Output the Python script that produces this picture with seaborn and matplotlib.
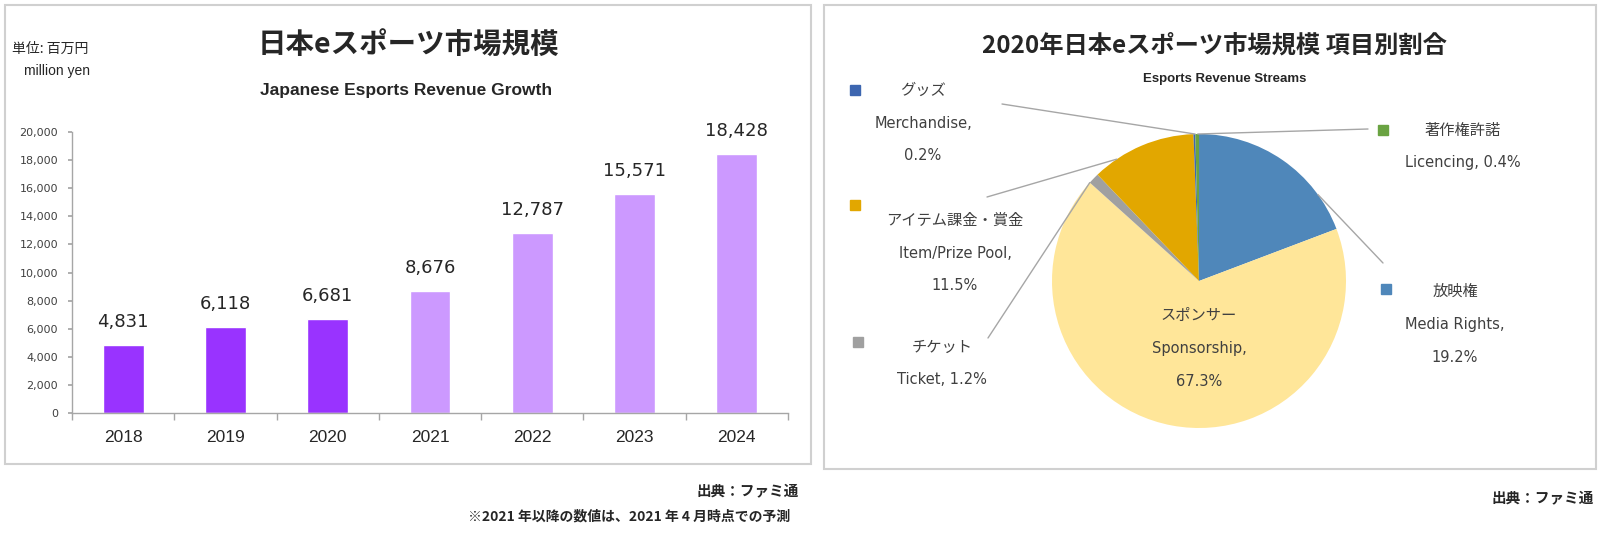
import numpy as np
import matplotlib
matplotlib.use('Agg')
import matplotlib.pyplot as plt
from matplotlib.patches import Rectangle
from matplotlib.ticker import StrMethodFormatter
import seaborn as sns

# data
years = ['2018', '2019', '2020', '2021', '2022', '2023', '2024']
revenue = [4831, 6118, 6681, 8676, 12787, 15571, 18428]
status = ['actual', 'actual', 'actual', 'forecast', 'forecast', 'forecast', 'forecast']

streams_jp = ['放映権', 'スポンサー', 'チケット', 'アイテム課金・賞金', 'グッズ', '著作権許諾']
streams_en = ['Media Rights', 'Sponsorship', 'Ticket', 'Item/Prize Pool', 'Merchandise', 'Licencing']
shares = [19.2, 67.3, 1.2, 11.5, 0.2, 0.4]

bar_colors = {'actual': '#9933FF', 'forecast': '#CC99FF'}
pie_colors = ['#4F87BA', '#FFE699', '#A0A0A0', '#E2A700', '#3D66B0', '#6AA342']

sns.set_theme(style='white')
plt.rcParams['font.family'] = ['DejaVu Sans', 'Noto Sans CJK JP']
JP = ['Noto Sans CJK JP', 'DejaVu Sans']
EN = ['Liberation Sans', 'Noto Sans CJK JP']

W, H = 1600, 535
fig = plt.figure(figsize=(16, 5.35), dpi=100)
fig.patch.set_facecolor('white')


def fxy(x, y):
    return x / W, 1 - y / H


# panel frames
for x0, y0, x1, y1 in [(5, 5, 811, 464), (824, 5, 1596, 469)]:
    fig.patches.append(Rectangle(fxy(x0, y1), (x1 - x0) / W, (y1 - y0) / H,
                                 transform=fig.transFigure, fill=False,
                                 edgecolor='#D0D0D0', linewidth=1.5))

# ---- left: bar chart
ax1 = fig.add_axes([72 / W, 1 - 413 / H, (788 - 72) / W, (413 - 132) / H])
sns.barplot(x=years, y=revenue, hue=status, palette=bar_colors, dodge=False,
            width=0.4, saturation=1, legend=False, ax=ax1)
for c in ax1.containers:
    ax1.bar_label(c, fmt='{:,.0f}', padding=10, fontsize=13, color='#262626')

ax1.set_ylim(0, 20000)
ax1.set_xlim(-0.5, 6.5)
ax1.set_yticks(range(0, 20001, 2000))
ax1.yaxis.set_major_formatter(StrMethodFormatter('{x:,.0f}'))
ax1.set_xticks(np.arange(-0.5, 7, 1), minor=True)
ax1.set_xlabel('')
ax1.set_ylabel('')
for s in ['top', 'right']:
    ax1.spines[s].set_visible(False)
for s in ['left', 'bottom']:
    ax1.spines[s].set_color('#A6A6A6')
    ax1.spines[s].set_linewidth(1)
ax1.tick_params(axis='y', left=True, length=3, color='#A6A6A6', labelsize=8,
                labelcolor='#404040', pad=7)
ax1.tick_params(axis='x', which='major', length=0, labelsize=12.5,
                labelcolor='#262626', pad=12)
ax1.tick_params(axis='x', which='minor', bottom=True, length=5, color='#A6A6A6')
for lab in ax1.get_xticklabels():
    lab.set_family(EN)

fig.text(*fxy(408, 46), '日本eスポーツ市場規模', family=JP, fontsize=20.5,
         weight='bold', ha='center', va='center')
fig.text(*fxy(406, 90), 'Japanese Esports Revenue Growth', family=EN,
         fontsize=12.5, weight='bold', ha='center', va='center')
fig.text(*fxy(50, 49), '単位: 百万円', family=JP, fontsize=10, ha='center',
         va='center', color='#262626')
fig.text(*fxy(57, 71), 'million yen', family=EN, fontsize=10, ha='center',
         va='center', color='#262626')

# ---- right: pie chart
CX, CY, R = 1199, 281, 147
ax2 = fig.add_axes([824 / W, 0, (1596 - 824) / W, 1])
ax2.pie(shares, colors=pie_colors, startangle=90, counterclock=False,
        wedgeprops=dict(linewidth=0))
ax2.set_aspect('auto')
ax2.set_xlim((824 - CX) / R, (1596 - CX) / R)
ax2.set_ylim((CY - H) / R, CY / R)
ax2.axis('off')


def pd_(x, y):
    return (x - CX) / R, (CY - y) / R


# label layout: text centre x, first line y, marker position, leader end, anchor angle
layout = {
    'Media Rights': dict(tx=1455, ty=291, m=(1386, 289), lead=(1383, 263), ang=36, wrap=True),
    'Sponsorship': dict(tx=1199, ty=315, m=None, lead=None, ang=None, wrap=True),
    'Ticket': dict(tx=942, ty=347, m=(858, 342), lead=(988, 338), ang=138, wrap=False),
    'Item/Prize Pool': dict(tx=955, ty=220, m=(855, 205), lead=(987, 197), ang=124, wrap=True),
    'Merchandise': dict(tx=923, ty=90, m=(855, 90), lead=(1002, 104), ang=91.5, wrap=True),
    'Licencing': dict(tx=1463, ty=130, m=(1383, 130), lead=(1368, 129), ang=90.5, wrap=False),
}
gap = 33
for jp, en, sh, col in zip(streams_jp, streams_en, shares, pie_colors):
    L = layout[en]
    if L['wrap']:
        lines = [jp, f'{en},', f'{sh}%']
    else:
        lines = [jp, f'{en}, {sh}%']
    for i, t in enumerate(lines):
        ax2.text(*pd_(L['tx'], L['ty'] + i * gap), t, family=JP if i == 0 else ['DejaVu Sans'],
                 fontsize=11 if i == 0 else 10.5, ha='center', va='center', color='#404040')
    if L['m'] is not None:
        ax2.plot(*pd_(*L['m']), marker='s', markersize=7, color=col, linestyle='none')
        a = np.deg2rad(L['ang'])
        ex, ey = pd_(*L['lead'])
        ax2.plot([ex, np.cos(a)], [ey, np.sin(a)], color='#A6A6A6', linewidth=1)

fig.text(*fxy(1214, 46), '2020年日本eスポーツ市場規模 項目別割合', family=JP,
         fontsize=17.5, weight='bold', ha='center', va='center')
fig.text(*fxy(1225, 79), 'Esports Revenue Streams', family=EN, fontsize=9.5,
         weight='bold', ha='center', va='center')

# footnotes
fig.text(*fxy(799, 490), '出典：ファミ通', family=JP, fontsize=10.5, weight='bold',
         ha='right', va='center')
fig.text(*fxy(790, 517), '※2021 年以降の数値は、2021 年 4 月時点での予測', family=JP,
         fontsize=10, weight='bold', ha='right', va='center')
fig.text(*fxy(1594, 497), '出典：ファミ通', family=JP, fontsize=10.5, weight='bold',
         ha='right', va='center')

fig.savefig('out.png', dpi=100, facecolor='white')
